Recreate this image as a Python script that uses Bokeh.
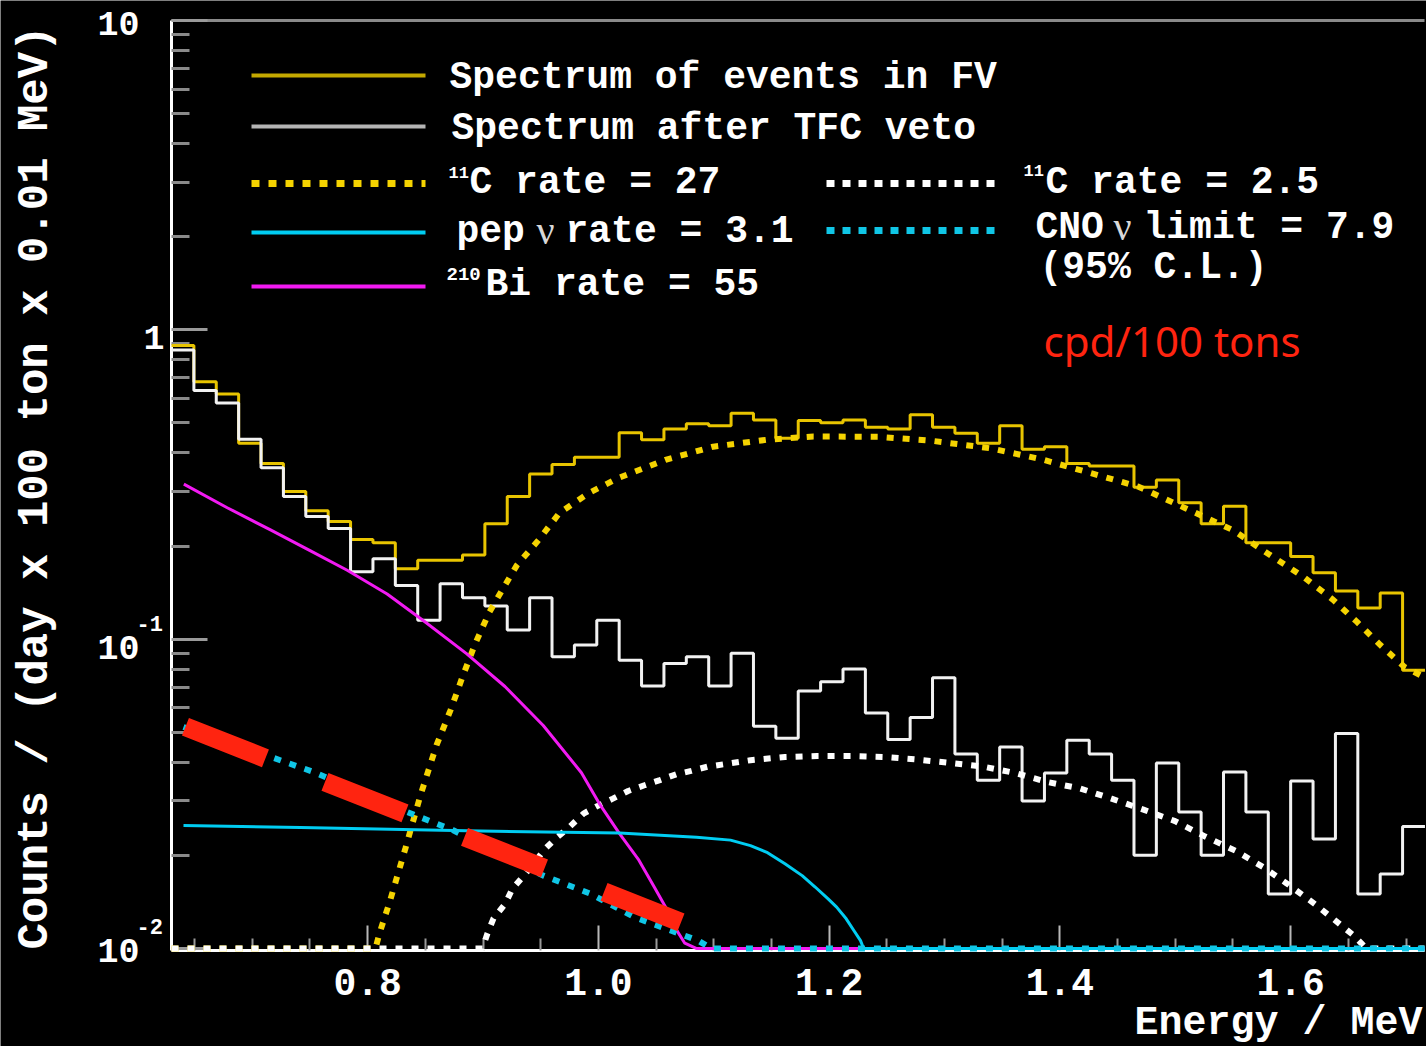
import numpy as np
from bokeh.plotting import figure
from bokeh.models import (Range1d, FixedTicker, CustomJSTickFormatter, Label, Arrow,
                          LinearAxis, LogAxis)
from bokeh.embed import file_html
from bokeh.resources import INLINE

# ---------------------------------------------------------------- data
# Histogram binning (MeV)
BIN_START = 0.63
BIN_WIDTH = 0.0194

# Spectrum of events in the fiducial volume
fv_counts = [0.89, 0.68, 0.62, 0.43, 0.37, 0.30, 0.26, 0.24, 0.21, 0.205,
             0.169, 0.18, 0.18, 0.187, 0.236, 0.289, 0.342, 0.367, 0.387, 0.387,
             0.465, 0.441, 0.478, 0.497, 0.49, 0.537, 0.511, 0.446, 0.509, 0.501,
             0.511, 0.484, 0.478, 0.531, 0.484, 0.463, 0.43, 0.49, 0.411, 0.419,
             0.37, 0.363, 0.363, 0.31, 0.327, 0.276, 0.236, 0.269, 0.205, 0.205,
             0.185, 0.164, 0.143, 0.126, 0.141, 0.0794]

# Spectrum after the three-fold-coincidence veto
tfc_counts = [0.861, 0.637, 0.580, 0.443, 0.358, 0.289, 0.249, 0.228, 0.165, 0.182,
              0.149, 0.115, 0.151, 0.136, 0.128, 0.107, 0.136, 0.0877, 0.0957, 0.115,
              0.0855, 0.0705, 0.0834, 0.0877, 0.0705, 0.090, 0.0523, 0.0478, 0.068, 0.0728,
              0.080, 0.0577, 0.0474, 0.0558, 0.075, 0.0425, 0.035, 0.0448, 0.030, 0.0369,
              0.0471, 0.0425, 0.035, 0.020, 0.0398, 0.0276, 0.020, 0.0372, 0.0276, 0.015,
              0.0348, 0.0226, 0.0495, 0.015, 0.0174, 0.0248]

# 11C fit component, rate = 27
c11_fv_e = [0.63, 0.8068, 0.8103, 0.8195, 0.8328, 0.8458, 0.8597, 0.8718, 0.8822, 0.8931,
            0.9056, 0.9151, 0.9294, 0.9481, 0.9663, 0.9919, 1.0174, 1.0581, 1.0994, 1.1457,
            1.1864, 1.2428, 1.2887, 1.3398, 1.3858, 1.4270, 1.4681, 1.5088, 1.5496, 1.5860,
            1.6111, 1.6371, 1.6575, 1.6778, 1.6986, 1.7160]
c11_fv_y = [0.01, 0.01, 0.0112, 0.0143, 0.0211, 0.0313, 0.0454, 0.0589, 0.0755, 0.0964,
            0.1225, 0.141, 0.1735, 0.209, 0.256, 0.297, 0.332, 0.380, 0.419, 0.441,
            0.452, 0.451, 0.438, 0.414, 0.380, 0.344, 0.311, 0.265, 0.2255, 0.183,
            0.159, 0.1337, 0.1137, 0.0957, 0.0813, 0.0753]

# 11C fit component after veto, rate = 2.5
c11_tfc_e = [0.63, 0.8995, 0.9039, 0.9091, 0.9190, 0.9255, 0.9349, 0.9538, 0.9637, 0.9754,
             0.9871, 0.9986, 1.0125, 1.0258, 1.0399, 1.0533, 1.0677, 1.0805, 1.0946, 1.1087,
             1.1318, 1.1617, 1.1897, 1.2188, 1.2476, 1.2766, 1.3043, 1.3336, 1.3615, 1.3896,
             1.4176, 1.4447, 1.4724, 1.4998, 1.5259, 1.5522, 1.5764, 1.5969, 1.6212, 1.6436,
             1.6548, 1.6657, 1.716]
c11_tfc_y = [0.01, 0.01, 0.0112, 0.0125, 0.0139, 0.0156, 0.0171, 0.0210, 0.0228, 0.0248,
             0.0273, 0.0288, 0.0305, 0.0323, 0.0337, 0.0350, 0.0366, 0.0375, 0.0387, 0.0394,
             0.0406, 0.0416, 0.0419, 0.0419, 0.0416, 0.0408, 0.0398, 0.0387, 0.0369, 0.0345,
             0.0329, 0.0305, 0.0281, 0.0258, 0.0230, 0.0207, 0.0183, 0.0162, 0.0139, 0.0119,
             0.0110, 0.0100, 0.0100]

# pep neutrino component, rate = 3.1
pep_e = [0.6404, 0.7418, 0.8857, 1.0183, 1.0850, 1.1145, 1.1318, 1.1466, 1.1617, 1.1766,
         1.1879, 1.1991, 1.2065, 1.2148, 1.2214, 1.2272, 1.2298, 1.716]
pep_y = [0.0250, 0.0246, 0.0240, 0.0236, 0.0229, 0.0224, 0.0215, 0.0204, 0.0188, 0.0172,
         0.0158, 0.01446, 0.0136, 0.01247, 0.01143, 0.0106, 0.0100, 0.0100]

# 210Bi component, rate = 55
bi_e = [0.6407, 0.6783, 0.7158, 0.7505, 0.7823, 0.8169, 0.8493, 0.8857, 0.9190, 0.9522,
        0.9853, 1.0018, 1.0183, 1.0351, 1.0484, 1.0583, 1.0682, 1.0749, 1.0848, 1.716]
bi_y = [0.317, 0.266, 0.2255, 0.193, 0.167, 0.140, 0.114, 0.0898, 0.0703, 0.0526,
        0.0370, 0.0290, 0.0235, 0.0193, 0.0158, 0.0136, 0.0114, 0.0104, 0.0100, 0.0100]

# CNO neutrino limit, 7.9 (95% C.L.)
cno_e = [0.6404, 0.7115, 0.7531, 0.8345, 0.8742, 0.9522, 0.9936, 1.0317, 1.0582, 1.0865,
         1.0980, 1.716]
cno_y = [0.0520, 0.0422, 0.0372, 0.0276, 0.0241, 0.0172, 0.0150, 0.0126, 0.0116, 0.0106,
         0.0100, 0.0100]

# Highlighted CNO band (end points)
cno_band_e = [0.6421, 1.0716]
cno_band_y = [0.0521, 0.01215]

# Axis ticks
x_major = [0.8, 1.0, 1.2, 1.4, 1.6]
x_minor = [0.65, 0.70, 0.75, 0.85, 0.90, 0.95, 1.05, 1.10, 1.15, 1.25, 1.30, 1.35,
           1.45, 1.50, 1.55, 1.65, 1.70]
y_major = [0.01, 0.1, 1.0, 10.0]
y_minor = [m * d for d in (0.01, 0.1, 1.0) for m in range(2, 10)]

# ---------------------------------------------------------------- layout
W, H = 1426, 1046
PLOT_L, PLOT_R, PLOT_T, PLOT_B = 171, 1424, 20, 950      # axes box in pixels
X0, X1 = 0.63, 1.716                                      # energy range of the axes
Y0, Y1 = 0.00985, 10.0                                    # counts range of the axes

px_per_mev = (PLOT_R - PLOT_L) / (X1 - X0)
dec_per_px = (np.log10(Y1) - np.log10(Y0)) / (PLOT_B - PLOT_T)
x_full = (X0 - PLOT_L / px_per_mev, X1 + (W - PLOT_R) / px_per_mev)
y_full = (10 ** (np.log10(Y0) - (H - PLOT_B) * dec_per_px),
          10 ** (np.log10(Y1) + PLOT_T * dec_per_px))

# ---------------------------------------------------------------- colours
YELLOW = "#e8c400"
YELLOW_DOT = "#f5d300"
WHITE = "#f2f2f2"
CYAN = "#00cdf2"
CYAN_DOT = "#10c6e6"
MAGENTA = "#f21af2"
RED = "#ff2410"

FONT = "Liberation Mono"

# ---------------------------------------------------------------- figure
p = figure(width=W, height=H, y_axis_type="log",
           x_range=Range1d(*x_full), y_range=Range1d(*y_full),
           x_axis_location=None, y_axis_location=None,
           output_backend="svg", toolbar_location=None, min_border=0,
           background_fill_color="black", border_fill_color="black",
           outline_line_color=None)
p.grid.visible = False

blank = CustomJSTickFormatter(code="return ''")

xax = LinearAxis(fixed_location=Y0, bounds=(X0, X1),
                 ticker=FixedTicker(ticks=x_major, minor_ticks=x_minor), formatter=blank,
                 axis_line_color="white", axis_line_width=3,
                 major_tick_in=25, major_tick_out=0, minor_tick_in=12, minor_tick_out=0,
                 major_tick_line_color="#b8b8b8", minor_tick_line_color="#9a9a9a",
                 major_tick_line_width=2, minor_tick_line_width=2, level="underlay")
p.add_layout(xax, "below")

yax = LogAxis(fixed_location=X0, bounds=(Y0, Y1),
              ticker=FixedTicker(ticks=y_major, minor_ticks=y_minor), formatter=blank,
              axis_line_color="white", axis_line_width=3,
              major_tick_in=36, major_tick_out=0, minor_tick_in=18, minor_tick_out=0,
              major_tick_line_color="#9a9a9a", minor_tick_line_color="#8a8a8a",
              major_tick_line_width=3, minor_tick_line_width=3, level="underlay")
p.add_layout(yax, "left")

top = LinearAxis(fixed_location=Y1, bounds=(X0, X1),
                 ticker=FixedTicker(ticks=[]), formatter=blank,
                 axis_line_color="#8a8a8a", axis_line_width=3,
                 major_tick_in=0, major_tick_out=0, minor_tick_in=0, minor_tick_out=0,
                 level="underlay")
p.add_layout(top, "above")

# ---------------------------------------------------------------- histograms
edges = BIN_START + BIN_WIDTH * np.arange(len(fv_counts) + 1)
p.step(edges, list(fv_counts) + [fv_counts[-1]], mode="after",
       line_color=YELLOW, line_width=3)
p.step(edges, list(tfc_counts) + [tfc_counts[-1]], mode="after",
       line_color=WHITE, line_width=3)

# ---------------------------------------------------------------- fit components
DOTS = "7 9"
p.line(c11_fv_e, c11_fv_y, line_color=YELLOW_DOT, line_width=6, line_dash=DOTS)
p.line(c11_tfc_e, c11_tfc_y, line_color="white", line_width=6, line_dash=DOTS)
p.line(bi_e, bi_y, line_color=MAGENTA, line_width=3, line_join="round")
p.line(pep_e, pep_y, line_color=CYAN, line_width=3, line_join="round")
p.line(cno_e, cno_y, line_color=CYAN_DOT, line_width=6, line_dash=DOTS)
p.line(cno_band_e, cno_band_y, line_color=RED, line_width=19, line_dash="86 64")

# ---------------------------------------------------------------- text helpers
DESCENT = 0.3   # baseline lift, as a fraction of the font size


def put(text, cx, cy, size, color="white", font=FONT, style="bold",
        align="left", baseline="alphabetic", angle=0.0):
    lift = DESCENT * size if baseline == "alphabetic" else 0.0
    p.add_layout(Label(x=cx, y=H - cy + lift, x_units="screen", y_units="screen",
                       text=text, text_font=font, text_font_size=f"{size}px",
                       text_font_style=style, text_color=color,
                       text_align=align, text_baseline=baseline, angle=angle))


def swatch(cx0, cx1, cy, color, width, dash="solid"):
    p.add_layout(Arrow(end=None, x_start=cx0, x_end=cx1, y_start=H - cy, y_end=H - cy,
                       start_units="screen", end_units="screen",
                       line_color=color, line_width=width, line_dash=dash))


# ---------------------------------------------------------------- legend
swatch(251, 425, 75, "#c4a800", 4)
put("Spectrum of events in FV", 449, 88, 38)
swatch(251, 425, 126, "#b4b4b4", 4)
put("Spectrum after TFC veto", 451, 139, 38)
swatch(251, 425, 183, YELLOW_DOT, 7, "8 9")
put("11", 448, 177, 17)
put("C rate = 27", 469, 193, 38)
swatch(251, 425, 232, CYAN, 4)
put("pep", 456, 242, 38)
put("ν", 536, 242, 40, color="#d8d8d8", font="Liberation Serif", style="normal")
put("rate = 3.1", 565, 242, 38)
swatch(251, 425, 286, MAGENTA, 4)
put("210", 446, 279, 19)
put("Bi rate = 55", 485, 295, 38)

swatch(826, 1000, 183, "white", 7, "8 8")
put("11", 1023, 175, 17)
put("C rate = 2.5", 1045, 193, 38)
swatch(826, 1000, 230, CYAN_DOT, 7, "8 8")
put("CNO", 1035, 238, 38)
put("ν", 1113, 238, 40, color="#d8d8d8", font="Liberation Serif", style="normal")
put("limit = 7.9", 1143, 238, 38)
put("(95% C.L.)", 1039, 278, 38)
put("cpd/100 tons", 1043, 353, 42, color=RED, font="Noto Sans", style="normal")

# ---------------------------------------------------------------- tick labels
for t in x_major:
    p.add_layout(Label(x=t, y=H - 993 + DESCENT * 38, x_units="data", y_units="screen",
                       text=f"{t:.1f}", text_font=FONT, text_font_size="38px",
                       text_font_style="bold", text_color="white",
                       text_align="center", text_baseline="alphabetic"))

put("10", 139, 33, 35, align="right")
put("1", 164, 347, 35, align="right")
put("10", 139, 657, 35, align="right")
put("-1", 136, 630, 22)
put("10", 139, 960, 35, align="right")
put("-2", 136, 933, 22)

# ---------------------------------------------------------------- axis titles
put("Counts / (day x 100 ton x 0.01 MeV)", 34, 487, 44,
    align="center", baseline="middle", angle=np.pi / 2)
put("Energy / MeV", 1422, 1035, 40, align="right")

open("out.html", "w").write(file_html(p, INLINE))
